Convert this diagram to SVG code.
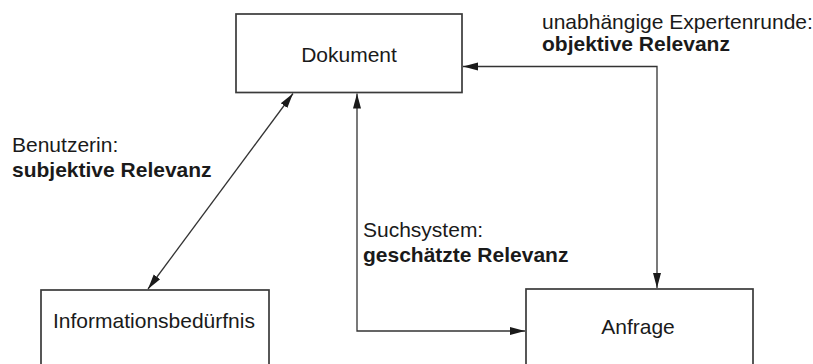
<svg xmlns="http://www.w3.org/2000/svg" width="813" height="364" viewBox="0 0 813 364">
<style>
.box{fill:#fff;stroke:#3a3a3a;stroke-width:1.7}
.t{font-family:"Liberation Sans",Arial,sans-serif;font-size:21px;fill:#1a1a1a}
.b{font-weight:bold}
.c{fill:none;stroke:#333;stroke-width:1.3}
</style>
<defs>
<marker id="ah" markerUnits="userSpaceOnUse" markerWidth="16" markerHeight="10" viewBox="0 0 16 10" refX="15" refY="5" orient="auto-start-reverse">
<path d="M0,1 L15,5 L0,9 Z" fill="#1a1a1a"/>
</marker>
</defs>
<rect width="813" height="364" fill="#fff"/>
<g id="connectors">
<path class="c" d="M463,66.5 H657 V288" marker-start="url(#ah)" marker-end="url(#ah)"/>
<path class="c" d="M357,93.5 V331 H525" marker-start="url(#ah)" marker-end="url(#ah)"/>
<path class="c" d="M293,93.5 L148,289" marker-start="url(#ah)" marker-end="url(#ah)"/>
</g>
<g id="dokument">
<rect class="box" x="236" y="14" width="226" height="78.5"/>
<text class="t" x="349" y="62" text-anchor="middle">Dokument</text>
</g>
<g id="anfrage">
<rect class="box" x="526" y="289" width="227" height="80"/>
<text class="t" x="638" y="334" text-anchor="middle">Anfrage</text>
</g>
<g id="informationsbeduerfnis">
<rect class="box" x="41" y="290" width="228" height="80"/>
<text class="t" x="154" y="328" text-anchor="middle">Informationsbedürfnis</text>
</g>
<g id="label-experten">
<text class="t" x="542" y="29">unabhängige Expertenrunde:</text>
<text class="t b" x="542" y="51">objektive Relevanz</text>
</g>
<g id="label-benutzerin">
<text class="t" x="12" y="152">Benutzerin:</text>
<text class="t b" x="12" y="177">subjektive Relevanz</text>
</g>
<g id="label-suchsystem">
<text class="t" x="363" y="237">Suchsystem:</text>
<text class="t b" x="363" y="262">geschätzte Relevanz</text>
</g>
</svg>
